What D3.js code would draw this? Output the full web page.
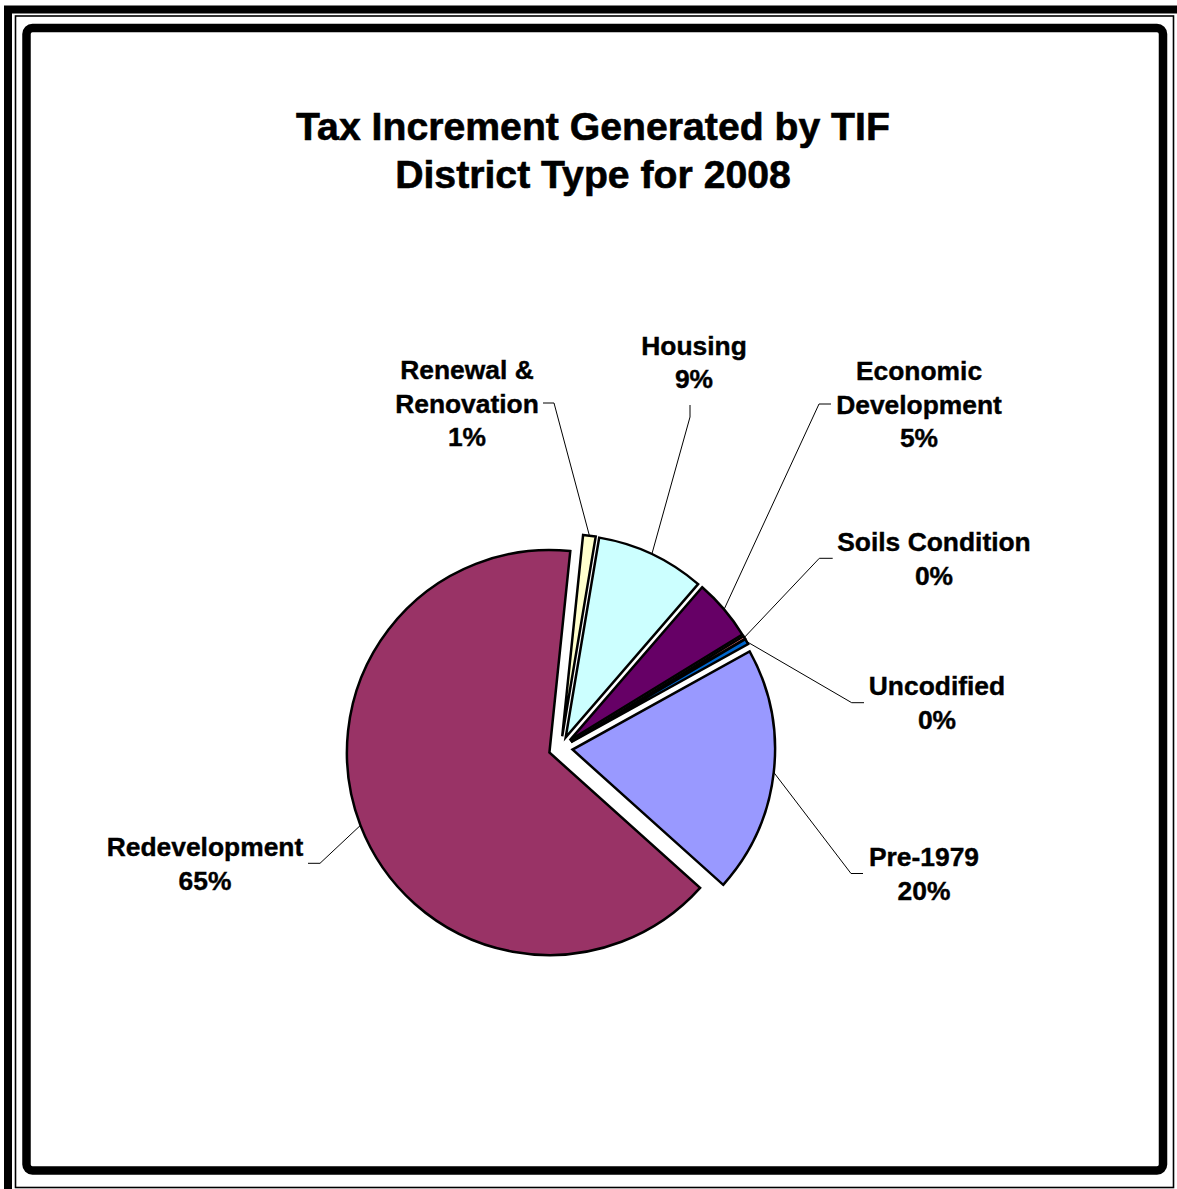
<!DOCTYPE html>
<html><head><meta charset="utf-8">
<script src="https://cdn.jsdelivr.net/npm/d3@7"></script>
<style>html,body{margin:0;padding:0;background:#fff;} svg{display:block;}</style>
</head><body>
<svg id="chart" width="1177" height="1189"></svg>
<script>
// ---- data ----
const titleLines = ["Tax Increment Generated by TIF", "District Type for 2008"];
const categories = ["Pre-1979", "Redevelopment", "Renewal & Renovation", "Housing", "Economic Development", "Soils Condition", "Uncodified"];
const labelLines = [["Pre-1979"], ["Redevelopment"], ["Renewal &", "Renovation"], ["Housing"], ["Economic", "Development"], ["Soils Condition"], ["Uncodified"]];
const shares = [19.7, 65.0, 1.0, 8.7, 4.9, 0.25, 0.45];

// ---- styles / layout ----
const colors = ["#9999FF", "#993366", "#FFFFCC", "#CCFFFF", "#660066", "#FF8080", "#0066CC"];
const firstSliceAngle = 61; // degrees, clockwise from 12 o'clock
const center = [560.6, 748.2];
const radius = 202.5;
const explode = 12;
const labelLayout = [
  {x: 924, y: 873.5, pts: [[851, 873.5], [863, 873.5]]},
  {x: 205, y: 863.3, pts: [[320, 863.3], [308, 863.3]]},
  {x: 467, y: 403,   pts: [[554, 403], [543, 403]]},
  {x: 694, y: 362,   pts: [[690, 417], [690, 405]]},
  {x: 919, y: 404,   pts: [[819, 404], [831, 404]]},
  {x: 934, y: 558.3, pts: [[819.3, 558.3], [832.7, 558.3]]},
  {x: 937, y: 702.7, pts: [[851.7, 702.7], [864, 702.7]]}
];
const font = "'Liberation Sans', Arial, Helvetica, sans-serif";
const labelSize = 26.4, lineH = 33.5, capOff = 9.5;

const svg = d3.select("#chart");
svg.append("rect").attr("width", 1177).attr("height", 1189).attr("fill", "#fff");

// frame
svg.append("rect").attr("x", 8).attr("y", 9.5).attr("width", 1200).attr("height", 1200)
  .attr("fill", "none").attr("stroke", "#000").attr("stroke-width", 8);
svg.append("rect").attr("x", 15.5).attr("y", 16).attr("width", 1158).attr("height", 1171.5)
  .attr("fill", "none").attr("stroke", "#000").attr("stroke-width", 1.6);
svg.append("rect").attr("x", 26.5).attr("y", 28).attr("width", 1136.5).attr("height", 1142.5)
  .attr("rx", 6).attr("fill", "#fff").attr("stroke", "#000").attr("stroke-width", 8.5);

// title
const title = svg.append("text").attr("text-anchor", "middle")
  .attr("font-family", font).attr("font-weight", "bold").attr("font-size", 39.2)
  .attr("fill", "#000").attr("stroke", "#000").attr("stroke-width", 0.6);
titleLines.forEach((t, i) => {
  title.append("tspan").attr("x", 593).attr("y", 140 + i * 47.5).text(t);
});

// pie
const a0 = firstSliceAngle * Math.PI / 180;
const pie = d3.pie().sort(null).value(d => d).startAngle(a0).endAngle(a0 + 2 * Math.PI);
const arcs = pie(shares);
const arc = d3.arc().innerRadius(0).outerRadius(radius);
const mid = d => (d.startAngle + d.endAngle) / 2;

const g = svg.append("g").attr("transform", `translate(${center[0]},${center[1]})`);
g.selectAll("path.slice").data(arcs).join("path")
  .attr("class", "slice")
  .attr("transform", d => `translate(${explode * Math.sin(mid(d))},${-explode * Math.cos(mid(d))})`)
  .attr("d", arc)
  .attr("fill", (d, i) => colors[i])
  .attr("stroke", "#000").attr("stroke-width", 2.5).attr("stroke-linejoin", "miter");

// leader lines
const line = d3.line();
svg.selectAll("path.leader").data(arcs).join("path")
  .attr("class", "leader")
  .attr("d", (d, i) => {
    const m = mid(d), r = radius + explode;
    const p0 = [center[0] + r * Math.sin(m), center[1] - r * Math.cos(m)];
    return line([p0].concat(labelLayout[i].pts));
  })
  .attr("fill", "none").attr("stroke", "#000").attr("stroke-width", 1);

// labels
arcs.forEach((d, i) => {
  const lines = labelLines[i].concat([Math.round(shares[i]) + "%"]);
  const L = labelLayout[i];
  const t = svg.append("text").attr("text-anchor", "middle")
    .attr("font-family", font).attr("font-weight", "bold").attr("font-size", labelSize)
    .attr("fill", "#000").attr("stroke", "#000").attr("stroke-width", 0.4);
  lines.forEach((s, k) => {
    t.append("tspan").attr("x", L.x)
      .attr("y", L.y + (k - (lines.length - 1) / 2) * lineH + capOff).text(s);
  });
});
</script>
</body></html>
